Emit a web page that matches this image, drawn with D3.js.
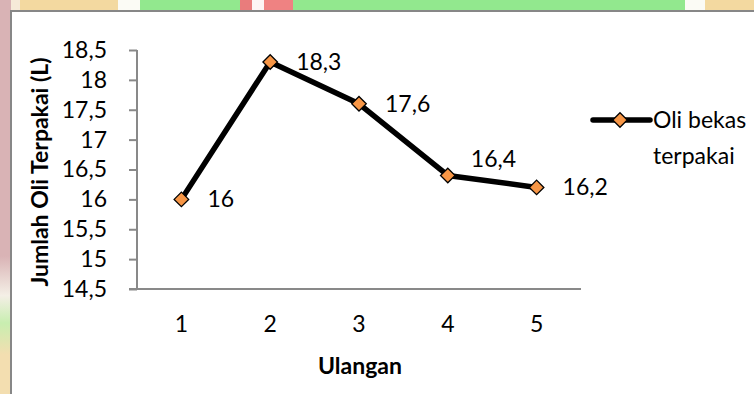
<!DOCTYPE html>
<html>
<head>
<meta charset="utf-8">
<script src="https://cdn.jsdelivr.net/npm/d3@7"></script>
<style>
html,body{margin:0;padding:0;background:#fff;}
svg{display:block;}
text{font-family:Lato, "Open Sans", sans-serif;fill:#000;}
</style>
</head>
<body>
<svg id="c" width="754" height="394"></svg>
<script>
const categories = ["1","2","3","4","5"];
const values = [16, 18.3, 17.6, 16.4, 16.2];
const valueLabels = ["16","18,3","17,6","16,4","16,2"];
const yTicks = [14.5,15,15.5,16,16.5,17,17.5,18,18.5];
const yTickLabels = ["14,5","15","15,5","16","16,5","17","17,5","18","18,5"];
const seriesName = ["Oli bekas","terpakai"];

const svg = d3.select("#c");
const FS = 23;

// background watermark strip (decorative)
const strips = [
  [0,8,"#d9b3b5"],[8,20,"#f6ead8"],[20,118,"#f3d9a0"],[118,140,"#fbfbf5"],
  [140,240,"#92e88e"],[240,252,"#e97c7c"],[252,264,"#fdf4f4"],[264,293,"#ef8282"],
  [293,685,"#92e88e"],[685,705,"#fbfbf5"],[705,754,"#f3d9a0"]
];
svg.selectAll("rect.strip").data(strips).enter().append("rect")
  .attr("x",d=>d[0]).attr("y",0).attr("width",d=>d[1]-d[0]).attr("height",11).attr("fill",d=>d[2]);
const lg = svg.append("defs").append("linearGradient").attr("id","lg").attr("x1",0).attr("y1",0).attr("x2",0).attr("y2",1);
lg.append("stop").attr("offset","0").attr("stop-color","#d9b3b5");
lg.append("stop").attr("offset","0.65").attr("stop-color","#d9b3b5");
lg.append("stop").attr("offset","0.75").attr("stop-color","#f4efe6");
lg.append("stop").attr("offset","0.82").attr("stop-color","#c8eeb0");
lg.append("stop").attr("offset","0.9").attr("stop-color","#f3deb0");
lg.append("stop").attr("offset","1").attr("stop-color","#f3deb0");
svg.append("rect").attr("x",0).attr("y",0).attr("width",11).attr("height",394).attr("fill","url(#lg)");

// chart frame
svg.append("rect").attr("x",11).attr("y",11).attr("width",760).attr("height",400)
  .attr("fill","#fff").attr("stroke","#878787").attr("stroke-width",2);

const x = d3.scaleBand().domain(categories).range([137,581]);
const y = d3.scaleLinear().domain([14.5,18.5]).range([289,50]);

const axisColor = "#898989";
// y axis
const yAxis = svg.append("g").attr("transform","translate(137,0)")
  .call(d3.axisLeft(y).tickValues(yTicks).tickSize(8).tickFormat((d,i)=>yTickLabels[i]));
yAxis.select(".domain").attr("stroke",axisColor).attr("stroke-width",2).attr("d","M0,50V289");
yAxis.selectAll(".tick line").attr("stroke",axisColor).attr("stroke-width",2);
yAxis.selectAll(".tick text").attr("x",-30).attr("font-size",FS).attr("font-family","Lato, sans-serif").attr("fill","#000");

// x axis
const xAxis = svg.append("g").attr("transform","translate(0,289)")
  .call(d3.axisBottom(x).tickSize(0).tickPadding(27));
xAxis.select(".domain").attr("stroke",axisColor).attr("stroke-width",2).attr("d","M129,0H581");
xAxis.selectAll(".tick text").attr("font-size",FS).attr("font-family","Lato, sans-serif").attr("fill","#000");

// axis titles
svg.append("text").attr("transform","translate(48,172) rotate(-90)")
  .attr("text-anchor","middle").attr("font-weight","bold").attr("font-size",23)
  .text("Jumlah Oli Terpakai (L)");
svg.append("text").attr("x",360).attr("y",374).attr("text-anchor","middle")
  .attr("font-weight","bold").attr("font-size",23).text("Ulangan");

// line
const cx = d => x(d) + x.bandwidth()/2;
const line = d3.line().x((d,i)=>cx(categories[i])).y(d=>y(d));
svg.append("path").datum(values).attr("d",line).attr("fill","none")
  .attr("stroke","#000").attr("stroke-width",5.5).attr("stroke-linejoin","round");

const diamond = d3.symbol().type(d3.symbolDiamond2).size(135);
svg.selectAll("path.pt").data(values).enter().append("path")
  .attr("d",diamond)
  .attr("transform",(d,i)=>`translate(${cx(categories[i])},${y(d)})`)
  .attr("fill","#f79646").attr("stroke","#000").attr("stroke-width",1.3);

// data labels (right of point; 4th lifted to avoid the line, as in the original)
const labelShift = {3: {dx: -3, dy: -16}};
svg.selectAll("text.lbl").data(values).enter().append("text")
  .attr("x",(d,i)=>cx(categories[i])+26+((labelShift[i]||{}).dx||0))
  .attr("y",(d,i)=>y(d)+8+((labelShift[i]||{}).dy||0))
  .attr("font-size",FS).text((d,i)=>valueLabels[i]);

// legend
svg.append("line").attr("x1",593).attr("x2",650).attr("y1",120).attr("y2",120)
  .attr("stroke","#000").attr("stroke-width",5.5).attr("stroke-linecap","round");
svg.append("path").attr("d",diamond).attr("transform","translate(620,120)")
  .attr("fill","#f79646").attr("stroke","#000").attr("stroke-width",1.3);
svg.append("text").attr("x",653).attr("y",128).attr("font-size",FS).text(seriesName[0]);
svg.append("text").attr("x",653).attr("y",164).attr("font-size",FS).text(seriesName[1]);
</script>
</body>
</html>
